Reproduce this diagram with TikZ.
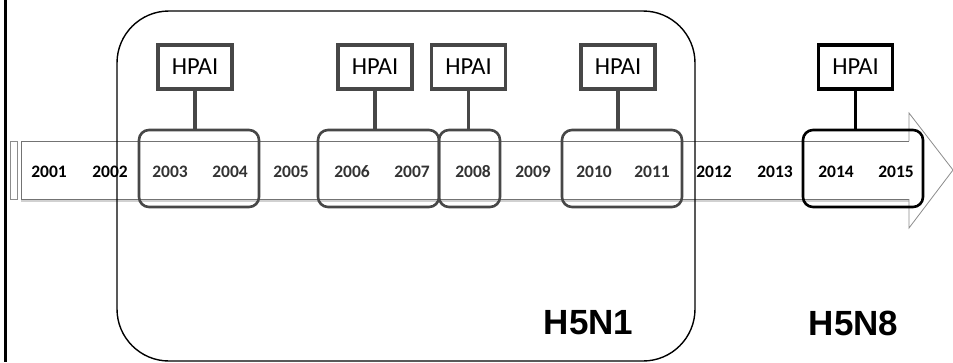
\documentclass[tikz,border=0pt]{standalone}
\usepackage{fontspec}
\newfontfamily\carlito{Carlito}
\newfontfamily\lsans{Liberation Sans}
\begin{document}
\begin{tikzpicture}[x=1pt,y=-1pt,
  yearlbl/.style={font=\carlito\bfseries\fontsize{17.5}{17.5}\selectfont, inner sep=0pt, anchor=center},
  grpbox/.style={draw=black!72, line width=2.6pt, rounded corners=10pt, minimum height=77pt, inner sep=0pt},
  hpaibox/.style={draw=black!72, line width=3.2pt, minimum width=74pt, minimum height=44pt, inner sep=0pt,
    font=\carlito\fontsize{24.5}{24.5}\selectfont, fill=white},
  stem/.style={draw=black!72, line width=3.4pt},
  strain/.style={font=\lsans\bfseries\fontsize{35}{35}\selectfont, inner sep=0pt}
]
\useasboundingbox (0,0) rectangle (953,362);
% left border line
\draw[line width=3pt] (5,0) -- (5,362);
% timeline band
\fill[black!18] (21,199) rectangle (909,202);
\draw[black!45, line width=0.8pt, fill=white] (10,141) rectangle (17,199);
\draw[black!55, line width=0.9pt, fill=white] (909,141) -- (21,141) -- (21,199) -- (909,199);
\draw[black!45, line width=0.8pt, fill=white] (909,141) -- (909,113) -- (953,170) -- (909,228) -- (909,199);
% big H5N1 box
\draw[line width=1.4pt, rounded corners=52pt] (117,11) rectangle (695,361);
% group boxes
\node[grpbox, minimum width=120pt] (g1) at (199,168.5) {};
\node[grpbox, minimum width=121pt] (g2) at (378.5,168.5) {};
\node[grpbox, minimum width=61pt] (g3) at (469.5,168.5) {};
\node[grpbox, minimum width=120pt] (g4) at (622,168.5) {};
\node[grpbox, draw=black, minimum width=120pt] (g5) at (863,168.5) {};
% years
\foreach \yr/\cx/\col in {2001/49/black, 2002/110/black, 2003/170/black!80, 2004/230/black!80,
  2005/291/black!80, 2006/352/black!80, 2007/412/black!80, 2008/473/black!80, 2009/533/black!80,
  2010/594/black!80, 2011/652/black!80, 2012/714/black, 2013/775/black, 2014/836/black, 2015/896/black}
  \node[yearlbl, text=\col] (y\yr) at (\cx,171.5) {\yr};
% HPAI boxes
\node[hpaibox] (h1) at (195,67) {HPAI};
\node[hpaibox] (h2) at (375,67) {HPAI};
\node[hpaibox] (h3) at (468.5,67) {HPAI};
\node[hpaibox] (h4) at (618,67) {HPAI};
\node[hpaibox, draw=black] (h5) at (855.5,67) {HPAI};
% stems
\draw[stem] (h1.south) -- (h1.south |- g1.north);
\draw[stem] (h2.south) -- (h2.south |- g2.north);
\draw[stem] (h3.south) -- (h3.south |- g3.north);
\draw[stem] (h4.south) -- (h4.south |- g4.north);
\draw[stem, draw=black] (h5.south) -- (h5.south |- g5.north);
% strain labels
\node[strain] (n1) at (588.5,323) {H5N1};
\node[strain] (n8) at (853.5,323) {H5N8};
\end{tikzpicture}
\end{document}
